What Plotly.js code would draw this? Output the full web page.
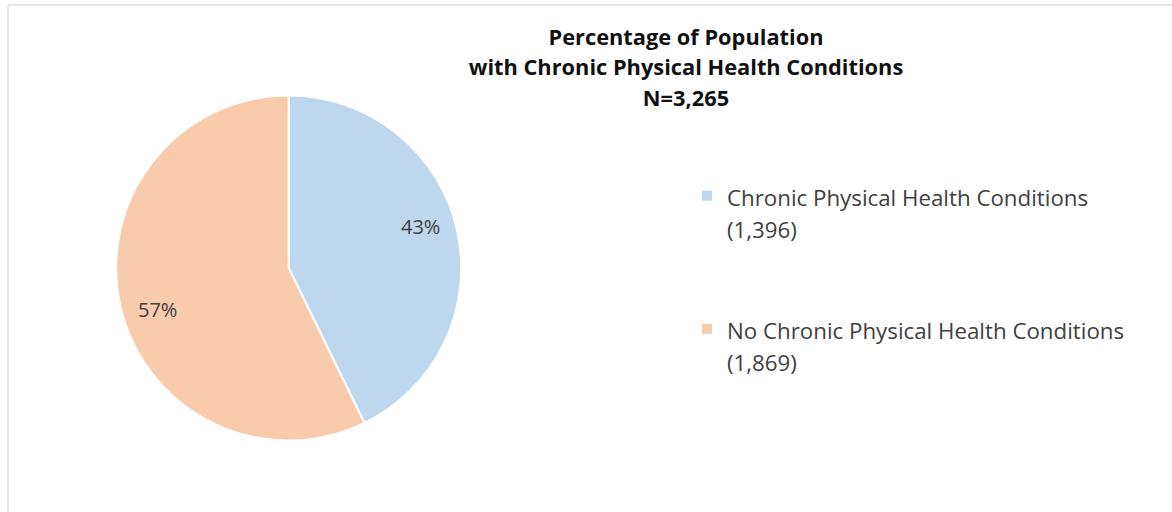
<!DOCTYPE html>
<html>
<head>
<meta charset="utf-8">
<script src="https://cdn.plot.ly/plotly-3.0.1.min.js"></script>
<style>
  html, body { margin: 0; padding: 0; background: #ffffff; }
  #chart { width: 1172px; height: 512px; }
</style>
</head>
<body>
<div id="chart"></div>
<script>
// ---- data ----
const categories = ["Chronic Physical Health Conditions", "No Chronic Physical Health Conditions"];
const counts = [1396, 1869];
const countLabels = ["(1,396)", "(1,869)"];
const sliceColors = ["#BDD7EE", "#F8CBAD"];
const titleLines = ["Percentage of Population", "with Chronic Physical Health Conditions", "N=3,265"];

// ---- geometry / style constants ----
const W = 1172, H = 512;
const pieDomain = { x: [0.0991, 0.3935], y: [0.1396, 0.8135] };
const labelRadiusFrac = 0.8;
const labelAngleShift = -4.5; // degrees

const legendLabels = categories.map((c, i) =>
  "<span style='font-size:22.3px'>" + c + "<br>" + countLabels[i] + "</span>" + (i === 0 ? "<br> <br> " : ""));

const trace = {
  type: "pie",
  labels: legendLabels,
  values: counts,
  sort: false,
  direction: "clockwise",
  rotation: 0,
  marker: { colors: sliceColors, line: { color: "#ffffff", width: 2 } },
  textinfo: "none",
  hoverinfo: "value+percent",
  domain: pieDomain
};

// percent labels placed on each slice, derived from the data
const total = counts.reduce((a, b) => a + b, 0);
const cx = (pieDomain.x[0] + pieDomain.x[1]) / 2 * W;
const cyFromBottom = (pieDomain.y[0] + pieDomain.y[1]) / 2 * H;
const R = Math.min((pieDomain.x[1] - pieDomain.x[0]) * W, (pieDomain.y[1] - pieDomain.y[0]) * H) / 2;
let cum = 0;
const annotations = counts.map((v) => {
  const frac = v / total;
  const mid = (cum + frac / 2) * 360 + labelAngleShift;
  cum += frac;
  const a = mid * Math.PI / 180;
  const px = cx + labelRadiusFrac * R * Math.sin(a);
  const py = cyFromBottom + labelRadiusFrac * R * Math.cos(a);
  return {
    xref: "paper", yref: "paper",
    x: px / W, y: py / H,
    xanchor: "center", yanchor: "middle",
    showarrow: false,
    text: Math.round(frac * 100) + "%",
    font: { family: "Open Sans", size: 20, color: "#404040" }
  };
});

const layout = {
  width: W,
  height: H,
  margin: { l: 0, r: 0, t: 0, b: 0 },
  paper_bgcolor: "#ffffff",
  font: { family: "Open Sans", color: "#404040" },
  title: {
    text: "<b><span style='font-size:21.8px'>" + titleLines.join("<br>") + "</span></b>",
    font: { family: "Open Sans", size: 23.3, color: "#111111" },
    x: 686 / W, xanchor: "center",
    y: 1 - 45 / H, yanchor: "top",
    xref: "paper", yref: "paper"
  },
  showlegend: true,
  legend: {
    x: 687 / W, xanchor: "left",
    y: 1 - 173 / H, yanchor: "top",
    valign: "top",
    font: { family: "Open Sans", size: 25, color: "#404040" },
    bgcolor: "rgba(0,0,0,0)"
  },
  annotations: annotations,
  shapes: [
    { type: "line", xref: "paper", yref: "paper", x0: 8 / W, x1: 1, y0: 1 - 5 / H, y1: 1 - 5 / H, line: { color: "#e6e6e6", width: 2 } },
    { type: "line", xref: "paper", yref: "paper", x0: 8 / W, x1: 8 / W, y0: 0, y1: 1 - 5 / H, line: { color: "#e6e6e6", width: 2 } }
  ]
};

Plotly.newPlot("chart", [trace], layout, { staticPlot: true, displayModeBar: false });
</script>
</body>
</html>
